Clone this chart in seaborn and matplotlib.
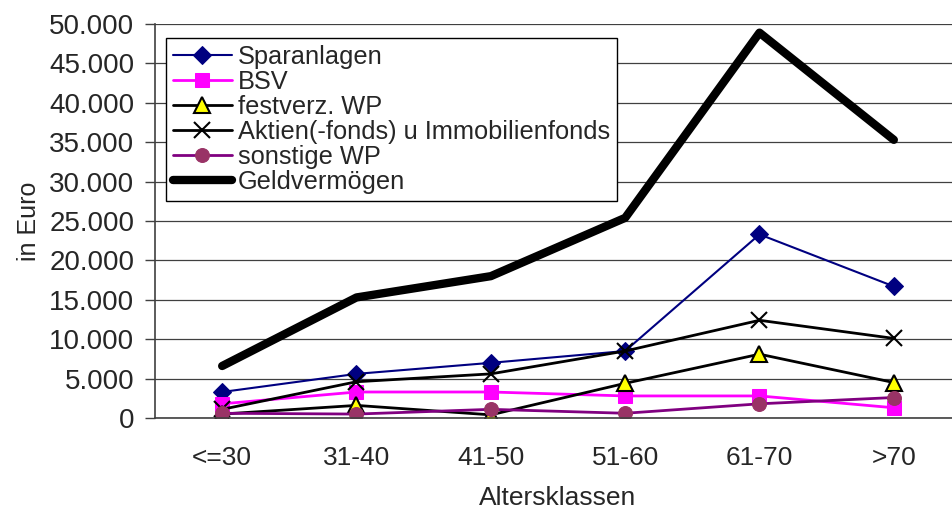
import matplotlib
matplotlib.use('Agg')
import matplotlib.pyplot as plt
import seaborn as sns
import pandas as pd
from matplotlib.ticker import FuncFormatter, FixedLocator

# data (Euro)
altersklassen = ['<=30', '31-40', '41-50', '51-60', '61-70', '>70']
sparanlagen = [3300, 5600, 7000, 8500, 23300, 16700]
bsv = [1800, 3300, 3300, 2800, 2800, 1300]
festverz_wp = [500, 1600, 400, 4400, 8100, 4500]
aktien = [1100, 4600, 5600, 8500, 12400, 10100]
sonstige_wp = [600, 500, 1100, 600, 1800, 2600]
geldvermoegen = [6600, 15300, 18000, 25400, 48900, 35300]

series = [
    ('Sparanlagen', sparanlagen, dict(color='#000080', lw=1.5, marker='D', ms=9,
                                       mfc='#000080', mec='#000080')),
    ('BSV', bsv, dict(color='#FF00FF', lw=2, marker='s', ms=10,
                      mfc='#FF00FF', mec='#FF00FF')),
    ('festverz. WP', festverz_wp, dict(color='black', lw=2, marker='^', ms=11,
                                       mfc='#FFFF00', mec='black', mew=1.5)),
    ('Aktien(-fonds) u Immobilienfonds', aktien, dict(color='black', lw=2, marker='x',
                                                      ms=12, mec='black', mew=1.5)),
    ('sonstige WP', sonstige_wp, dict(color='#800080', lw=2, marker='o', ms=10,
                                      mfc='#993366', mec='#993366')),
    ('Geldvermögen', geldvermoegen, dict(color='black', lw=6, marker=None)),
]

sns.set_style('white')
plt.rcParams['font.family'] = ['Liberation Sans', 'DejaVu Sans']

fig = plt.figure(figsize=(9.53, 5.18), dpi=100)
ax = fig.add_axes([155 / 953, 1 - 418 / 518, 806 / 953, 394 / 518])

for name, vals, style in series:
    df = pd.DataFrame({'Altersklassen': altersklassen, 'Wert': vals})
    sns.lineplot(data=df, x='Altersklassen', y='Wert', ax=ax, label=name,
                 sort=False, **style)

ax.set_xlim(-0.5, 5.5)
ax.set_ylim(0, 50000)
ax.yaxis.set_major_locator(FixedLocator(range(0, 50001, 5000)))
ax.yaxis.set_major_formatter(FuncFormatter(lambda v, p: f'{v:,.0f}'.replace(',', '.')))
ax.grid(axis='y', color='#404040', lw=0.9)
ax.set_axisbelow(True)

ax.set_xticks(range(len(altersklassen)))
ax.set_xticklabels(altersklassen)
ax.set_xticks([i - 0.5 for i in range(len(altersklassen) + 1)], minor=True)
ax.tick_params(axis='x', which='major', length=0, pad=20, labelsize=19)
ax.tick_params(axis='x', which='minor', length=7, width=1, color='#404040', direction='out')
ax.tick_params(axis='y', length=7, width=1, color='#404040', direction='out',
               labelsize=20, pad=8, left=True)

for side in ['top', 'right']:
    ax.spines[side].set_visible(False)
for side in ['left', 'bottom']:
    ax.spines[side].set_color('#404040')
    ax.spines[side].set_linewidth(1.2)

ax.set_xlabel('Altersklassen', fontsize=19, labelpad=12)
ax.set_ylabel('in Euro', fontsize=18, labelpad=6)

leg = ax.legend(loc='upper left', bbox_to_anchor=(0.014, 0.965), fontsize=18.3,
                frameon=True, fancybox=False, edgecolor='black', framealpha=1,
                handlelength=2.3, handletextpad=0.25, labelspacing=0.045,
                borderpad=0.27, borderaxespad=0)
leg.get_frame().set_linewidth(1)

fig.savefig('out.png', dpi=100)
